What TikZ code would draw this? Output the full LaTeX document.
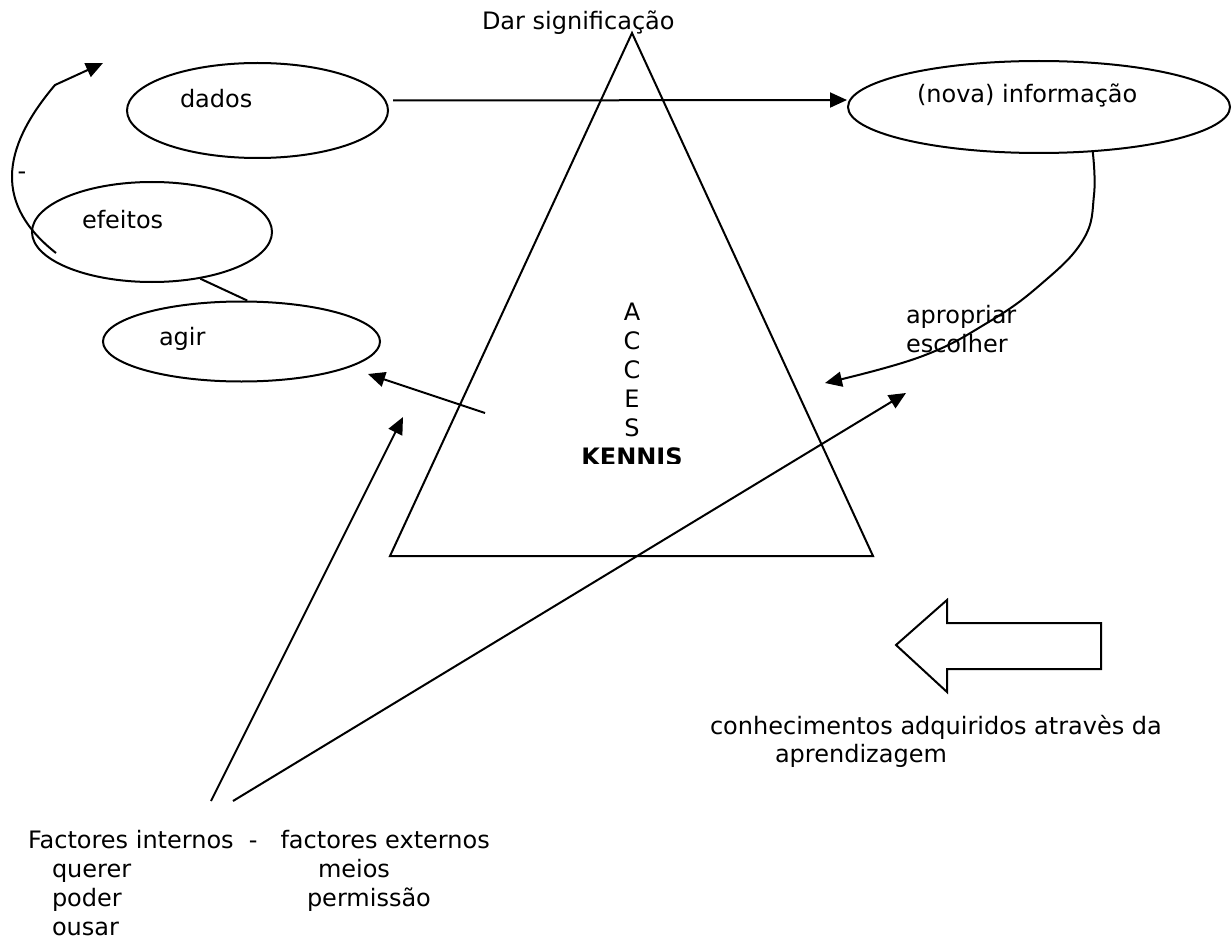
\documentclass[tikz,border=0pt]{standalone}
\usepackage{fontspec}
\setmainfont{DejaVu Sans}
\usetikzlibrary{arrows.meta,shapes.geometric}

\tikzset{
  oval/.style={draw, ellipse, inner sep=0pt},
  lbl/.style={anchor=base west, inner sep=0pt},
  arr/.style={-{Triangle[length=17pt,width=15pt]}},
}

\begin{document}
\begin{tikzpicture}[x=1pt, y=-1pt, line width=2pt, font=\fontsize{24}{29}\selectfont]
    \useasboundingbox (0,0) rectangle (1232,939);

    \draw  (632,33)  % top
        -- (390,556) % bottom left
        -- (873,556) % bottom right
        -- cycle;
    \node[lbl] (dar) at (481,30) {Dar significação};

    % ovals
    \node[oval, minimum width=261pt, minimum height=95pt] (dados) at (257.5,110.5) {};
    \node[oval, minimum width=382pt, minimum height=92pt] (info) at (1039,107) {};
    \node[oval, minimum width=240pt, minimum height=100pt] (efeitos) at (152,232) {};
    \node[oval, minimum width=277pt, minimum height=80pt] (agir) at (241.5,341.5) {};
    \node[lbl] (tdados) at (179,108) {dados};
    \node[lbl] (tinfo) at (916,103) {(nova) informação};
    \node[lbl] (tefeitos) at (81,228) {efeitos};
    \node[lbl] (tagir) at (158,345) {agir};

    % letters in the triangle
    \foreach \ch [count=\i from 0] in {A,C,C,E,S}
        \node[anchor=base, inner sep=0pt] (acc\i) at (632,320+29*\i) {\ch};
    \begin{scope}
        \clip (560,440) rectangle (700,463);
        \node[anchor=base, inner sep=0pt, font=\fontsize{24}{29}\selectfont\bfseries] (kennis) at (632,465) {KENNIS};
    \end{scope}

    % loop back to dados
    \coordinate (loopstart) at (56,253);
    \coordinate (loopend) at (103,63);
    \draw[arr] (loopstart) .. controls (-5,205) and (0,150) .. (55,85) -- (loopend);
    \node[anchor=base, inner sep=0pt] (minus) at (22,179) {-};

    \draw (efeitos.-44) -- (agir.82);
    \draw[arr] ([shift={(4pt,10pt)}]dados.east) -- ([yshift=7pt]info.west);

    \coordinate (agirfrom) at (485,413);
    \coordinate (agirtip) at (368,374);
    \draw[arr] (agirfrom) -- (agirtip);

    \coordinate (choosetip) at (825,383);
    \draw[arr] plot[smooth, tension=0.7] coordinates {(info.-40) (1094,195) (1083,240)
        (1040,285) (987,323) (920,357) (choosetip)};
    \node[lbl] (apropriar) at (905,323) {apropriar};
    \node[lbl] (escolher) at (905,352) {escolher};

    % factores
    \coordinate (intfrom) at (211,801);
    \coordinate (inttip) at (403,417);
    \coordinate (extfrom) at (233,801);
    \coordinate (exttip) at (906,393);
    \draw[arr] (intfrom) -- (inttip);
    \draw[arr] (extfrom) -- (exttip);

    \node[lbl] (factores) at (27,848) {Factores internos\ \ -\ \ \ factores externos};
    \node[lbl] (querer) at (51,877) {querer};
    \node[lbl] (poder) at (51,906) {poder};
    \node[lbl] (ousar) at (51,935) {ousar};
    \node[lbl] (meios) at (317,877) {meios};
    \node[lbl] (permissao) at (306,906) {permissão};

    % big arrow
    \draw  (896,645)
        -- (947,600)
        -- (947,623)
        -- (1101,623)
        -- (1101,669)
        -- (947,669)
        -- (947,692)
        -- cycle;
    \node[lbl] (conhec) at (709,734) {conhecimentos adquiridos atravès da};
    \node[lbl] (aprend) at (774,762) {aprendizagem};
\end{tikzpicture}
\end{document}
